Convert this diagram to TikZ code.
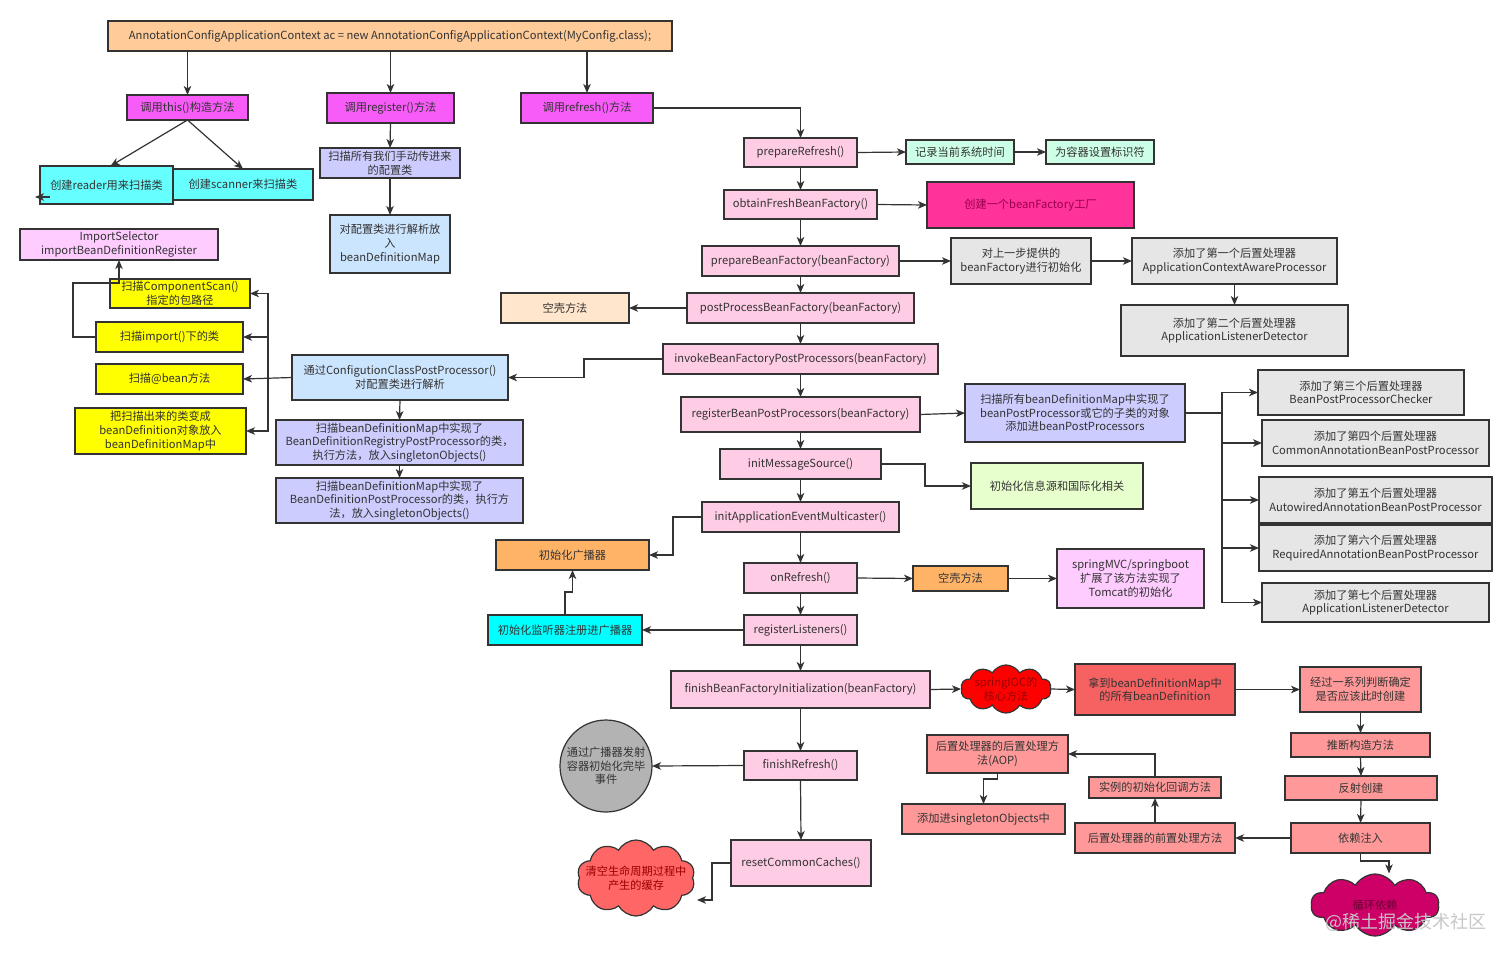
\documentclass[tikz,border=0pt]{standalone}
\usepackage{fontspec}
\setmainfont{Noto Sans CJK SC}
\usetikzlibrary{arrows.meta,shapes.symbols,calc}
\definecolor{lc}{HTML}{333333}
\definecolor{tc}{HTML}{333333}
\definecolor{cTop}{HTML}{FFCC99}
\definecolor{cMag}{HTML}{F85CF8}
\definecolor{cCyan}{HTML}{66FFFF}
\definecolor{cCyanS}{HTML}{00FFFF}
\definecolor{cLav}{HTML}{CCCCFF}
\definecolor{cLBlue}{HTML}{CCE5FF}
\definecolor{cPinkL}{HTML}{FFCCFF}
\definecolor{cYel}{HTML}{FFFF00}
\definecolor{cPink}{HTML}{FFCCE6}
\definecolor{cPeach}{HTML}{FFE6CC}
\definecolor{cGrayL}{HTML}{E6E6E6}
\definecolor{cHot}{HTML}{FF3399}
\definecolor{cHotT}{HTML}{99004D}
\definecolor{cMint}{HTML}{CCFFE6}
\definecolor{cLGreen}{HTML}{E6FFCC}
\definecolor{cOrange}{HTML}{FFB366}
\definecolor{cGray}{HTML}{B3B3B3}
\definecolor{cRedL}{HTML}{FF6666}
\definecolor{cRed}{HTML}{FF0000}
\definecolor{cRedT}{HTML}{990000}
\definecolor{cWine}{HTML}{CC0066}
\definecolor{cWineT}{HTML}{660033}
\definecolor{cSalmon}{HTML}{FF9999}
\definecolor{cRed2}{HTML}{F66262}
\newcommand\mkbox[7]{\node[box,#2,minimum width={#5-#3},minimum height={#6-#4}] (#1) at ({(#3+#5)/2},{(#4+#6)/2}) {#7};}
\begin{document}
\begin{tikzpicture}[x=1pt,y=-1pt,
  box/.style={draw=lc, line width=1.2pt, inner sep=0pt, outer sep=0pt, align=center, text=tc, font=\fontsize{11.2}{13.6}\selectfont},
  cld/.style={cloud, cloud puffs=10, cloud puff arc=120, cloud ignores aspect, draw=lc, line width=1.2pt, inner sep=0pt, align=center, font=\fontsize{11.2}{13.6}\selectfont},
  lblc/.style={align=center, inner sep=0pt, font=\fontsize{11.2}{13.6}\selectfont},
  arr/.style={draw=lc, line width=1.2pt, -{Stealth[length=9pt,width=7.5pt,inset=2.5pt]}},
  ln/.style={draw=lc, line width=1.2pt}]
\useasboundingbox (0,0) rectangle (1512,959);
\fill[white] (0,0) rectangle (1512,959);

% ---- top area
\mkbox{top}{fill=cTop}{108}{21}{672}{51}{AnnotationConfigApplicationContext ac = new AnnotationConfigApplicationContext(MyConfig.class);}
\mkbox{this}{fill=cMag}{127}{95}{248}{120}{调用this()构造方法}
\mkbox{reg}{fill=cMag}{327}{93}{454}{123}{调用register()方法}
\mkbox{refresh}{fill=cMag}{521}{93}{653}{123}{调用refresh()方法}
\mkbox{scanner}{fill=cCyan}{173}{169}{313}{200}{创建scanner来扫描类}
\mkbox{reader}{fill=cCyan}{40}{166}{173}{204}{创建reader用来扫描类}
\mkbox{manual}{fill=cLav}{320}{148}{460}{178}{扫描所有我们手动传进来\\的配置类}
\mkbox{parse}{fill=cLBlue}{330}{215}{450}{273}{对配置类进行解析放\\入\\beanDefinitionMap}

% ---- left cluster
\mkbox{isel}{fill=cPinkL}{20}{229}{218}{260}{ImportSelector\\importBeanDefinitionRegister}
\mkbox{cscan}{fill=cYel}{110}{279}{250}{308}{扫描ComponentScan()\\指定的包路径}
\mkbox{imp}{fill=cYel}{96}{322}{243}{352}{扫描import()下的类}
\mkbox{bean}{fill=cYel}{96}{364}{243}{394}{扫描@bean方法}
\mkbox{bd}{fill=cYel}{75}{408}{246}{454}{把扫描出来的类变成\\beanDefinition对象放入\\beanDefinitionMap中}
\mkbox{config}{fill=cLBlue}{292}{355}{508}{400}{通过ConfigutionClassPostProcessor()\\对配置类进行解析}
\mkbox{bdrpp}{fill=cLav}{276}{420}{523}{465}{扫描beanDefinitionMap中实现了\\BeanDefinitionRegistryPostProcessor的类，\\执行方法，放入singletonObjects()}
\mkbox{bdpp}{fill=cLav}{276}{478}{523}{523}{扫描beanDefinitionMap中实现了\\BeanDefinitionPostProcessor的类，执行方\\法，放入singletonObjects()}

% ---- main column
\mkbox{prep}{fill=cPink}{744}{138}{857}{167}{prepareRefresh()}
\mkbox{obtain}{fill=cPink}{724}{190}{877}{219}{obtainFreshBeanFactory()}
\mkbox{pbf}{fill=cPink}{702}{246}{899}{276}{prepareBeanFactory(beanFactory)}
\mkbox{ppbf}{fill=cPink}{687}{293}{914}{323}{postProcessBeanFactory(beanFactory)}
\mkbox{empty1}{fill=cPeach}{501}{293}{629}{323}{空壳方法}
\mkbox{invoke}{fill=cPink}{663}{344}{938}{374}{invokeBeanFactoryPostProcessors(beanFactory)}
\mkbox{rbpp}{fill=cPink}{681}{397}{920}{432}{registerBeanPostProcessors(beanFactory)}
\mkbox{ims}{fill=cPink}{720}{449}{881}{479}{initMessageSource()}
\mkbox{iaem}{fill=cPink}{702}{502}{899}{532}{initApplicationEventMulticaster()}
\mkbox{onr}{fill=cPink}{744}{563}{857}{593}{onRefresh()}
\mkbox{rl}{fill=cPink}{744}{615}{857}{645}{registerListeners()}
\mkbox{fbfi}{fill=cPink}{671}{671}{930}{708}{finishBeanFactoryInitialization(beanFactory)}
\mkbox{fr}{fill=cPink}{744}{751}{857}{780}{finishRefresh()}
\mkbox{rcc}{fill=cPink}{731}{840}{871}{886}{resetCommonCaches()}
\mkbox{bcast}{fill=cOrange}{496}{540}{649}{570}{初始化广播器}
\mkbox{lsn}{fill=cCyanS}{488}{615}{642}{645}{初始化监听器注册进广播器}
\node[box, circle, fill=cGray, minimum size=92pt] (circ) at (606,766) {通过广播器发射\\容器初始化完毕\\事件};
\node[cld, fill=cRedL, minimum width=118pt, minimum height=76pt,
      label={[lblc, text=cRedT]center:{清空生命周期过程中\\产生的缓存}}] (ccl) at (636,878) {};

% ---- right side
\mkbox{rec}{fill=cMint}{906}{140}{1014}{164}{记录当前系统时间}
\mkbox{ident}{fill=cMint}{1046}{140}{1154}{164}{为容器设置标识符}
\mkbox{create}{fill=cHot,text=cHotT}{927}{182}{1134}{228}{创建一个beanFactory工厂}
\mkbox{initbf}{fill=cGrayL}{951}{238}{1091}{284}{对上一步提供的\\beanFactory进行初始化}
\mkbox{p1}{fill=cGrayL}{1132}{238}{1337}{284}{添加了第一个后置处理器\\ApplicationContextAwareProcessor}
\mkbox{p2}{fill=cGrayL}{1121}{305}{1348}{356}{添加了第二个后置处理器\\ApplicationListenerDetector}
\mkbox{sbpp}{fill=cLav}{965}{384}{1185}{442}{扫描所有beanDefinitionMap中实现了\\beanPostProcessor或它的子类的对象\\添加进beanPostProcessors}
\mkbox{p3}{fill=cGrayL}{1258}{370}{1464}{415}{添加了第三个后置处理器\\BeanPostProcessorChecker}
\mkbox{p4}{fill=cGrayL}{1262}{420}{1489}{466}{添加了第四个后置处理器\\CommonAnnotationBeanPostProcessor}
\mkbox{p5}{fill=cGrayL}{1259}{477}{1492}{523}{添加了第五个后置处理器\\AutowiredAnnotationBeanPostProcessor}
\mkbox{p6}{fill=cGrayL}{1259}{525}{1492}{571}{添加了第六个后置处理器\\RequiredAnnotationBeanPostProcessor}
\mkbox{p7}{fill=cGrayL}{1262}{583}{1489}{622}{添加了第七个后置处理器\\ApplicationListenerDetector}
\mkbox{i18n}{fill=cLGreen}{971}{463}{1143}{509}{初始化信息源和国际化相关}
\mkbox{empty2}{fill=cOrange}{913}{566}{1008}{591}{空壳方法}
\mkbox{mvc}{fill=cPinkL}{1057}{549}{1204}{608}{springMVC/springboot\\扩展了该方法实现了\\Tomcat的初始化}
\node[cld, fill=cRed, text=cRedT, minimum width=80pt, minimum height=48pt] (ioc) at (1006,689) {springIOC的\\核心方法};
\mkbox{getbd}{fill=cRed2}{1075}{664}{1235}{715}{拿到beanDefinitionMap中\\的所有beanDefinition}
\mkbox{judge}{fill=cSalmon}{1300}{667}{1421}{712}{经过一系列判断确定\\是否应该此时创建}
\mkbox{ctor}{fill=cSalmon}{1291}{733}{1430}{757}{推断构造方法}
\mkbox{refl}{fill=cSalmon}{1285}{776}{1437}{800}{反射创建}
\mkbox{di}{fill=cSalmon}{1291}{823}{1430}{853}{依赖注入}
\mkbox{pre}{fill=cSalmon}{1075}{823}{1235}{853}{后置处理器的前置处理方法}
\mkbox{inst}{fill=cSalmon}{1089}{777}{1221}{798}{实例的初始化回调方法}
\mkbox{aop}{fill=cSalmon}{927}{735}{1068}{773}{后置处理器的后置处理方\\法(AOP)}
\mkbox{add}{fill=cSalmon}{902}{804}{1065}{834}{添加进singletonObjects中}
\node[cld, fill=cWine, text=cWineT, minimum width=128pt, minimum height=62pt] (loopc) at (1375,905) {循环依赖};

% ---- coordinates
\coordinate (rtip) at (35,197);
\coordinate (bus) at (268,378);
\coordinate (bus2) at (1222,413);
\coordinate (cct) at (697,900);

% ---- connectors, top
\draw[arr] (this.north |- top.south) -- (this.north);
\draw[arr] (reg.north |- top.south) -- (reg.north);
\draw[arr] (refresh.north |- top.south) -- (refresh.north);
\draw[arr] (this.south) -- ([xshift=4pt]reader.north);
\draw[arr] (this.south) -- (scanner.north);
\draw[arr] ([xshift=10pt,yshift=-12pt]reader.west) -- (rtip);
\draw[arr] (reg.south) -- (manual.north);
\draw[arr] (manual.south) -- (parse.north);

% ---- left cluster
\draw[arr] (config.west) -- (bean.east);
\draw[arr] (bus) |- (cscan.east);
\draw[arr] (bus) |- (imp.east);
\draw[arr] (bus) |- (bd.east);
\draw[arr] (imp.west) -- ++(-23,0) |- ([yshift=-23pt]isel.south) -- (isel.south);
\draw[arr] (config.south) -- (bdrpp.north);
\draw[arr] (bdrpp.south) -- (bdpp.north);
\draw[arr] (invoke.west) -- ++(-79,0) |- (config.east);

% ---- main column
\draw[arr] (refresh.east) -| (prep.north);
\draw[arr] (prep.south) -- (obtain.north);
\draw[arr] (obtain.south) -- (pbf.north);
\draw[arr] (pbf.south) -- (ppbf.north);
\draw[arr] (ppbf.south) -- (invoke.north);
\draw[arr] (invoke.south) -- (rbpp.north);
\draw[arr] (rbpp.south) -- (ims.north);
\draw[arr] (ims.south) -- (iaem.north);
\draw[arr] (iaem.south) -- (onr.north);
\draw[arr] (onr.south) -- (rl.north);
\draw[arr] (rl.south) -- (fbfi.north);
\draw[arr] (fbfi.south) -- (fr.north);
\draw[arr] (fr.south) -- (rcc.north);
\draw[arr] (ppbf.west) -- (empty1.east);
\draw[arr] (iaem.west) -- ++(-29,0) |- (bcast.east);
\draw[arr] (rl.west) -- (lsn.east);
\draw[arr] (lsn.north) -- ++(0,-23) -| (bcast.south);
\draw[arr] (fr.west) -- (circ.east);
\draw[arr] (rcc.west) -- ++(-19,0) |- (cct);

% ---- right side
\draw[arr] (prep.east) -- (rec.west);
\draw[arr] (rec.east) -- (ident.west);
\draw[arr] (obtain.east) -- (create.west);
\draw[arr] (pbf.east) -- (initbf.west);
\draw[arr] (initbf.east) -- (p1.west);
\draw[arr] (p1.south) -- (p2.north);
\draw[arr] (rbpp.east) -- (sbpp.west);
\draw[ln] (sbpp.east) -- (bus2);
\draw[arr] (bus2) |- (p3.west);
\draw[arr] (bus2) |- (p4.west);
\draw[arr] (bus2) |- (p5.west);
\draw[arr] (bus2) |- (p6.west);
\draw[arr] (bus2) |- (p7.west);
\draw[arr] (ims.east) -- ++(44,0) |- (i18n.west);
\draw[arr] (onr.east) -- (empty2.west);
\draw[arr] (empty2.east) -- (mvc.west);
\draw[arr] (fbfi.east) -- (ioc.west);
\draw[arr] (ioc.east) -- (getbd.west);
\draw[arr] (getbd.east) -- (judge.west);
\draw[arr] (judge.south) -- (ctor.north);
\draw[arr] (ctor.south) -- (refl.north);
\draw[arr] (refl.south) -- (di.north);
\draw[arr] (di.west) -- (pre.east);
\draw[arr] (pre.north) -- (inst.south);
\draw[arr] (inst.north) |- (aop.east);
\draw[arr] (aop.south) -- ++(0,6) -| (add.north);
\draw[arr] (di.south) -- ++(0,8) -| ([xshift=14pt]loopc.north);

% ---- watermark
\node[text=black!22, font=\fontsize{18}{20}\selectfont, anchor=center] (wm) at (1406,922) {@稀土掘金技术社区};
\end{tikzpicture}
\end{document}
